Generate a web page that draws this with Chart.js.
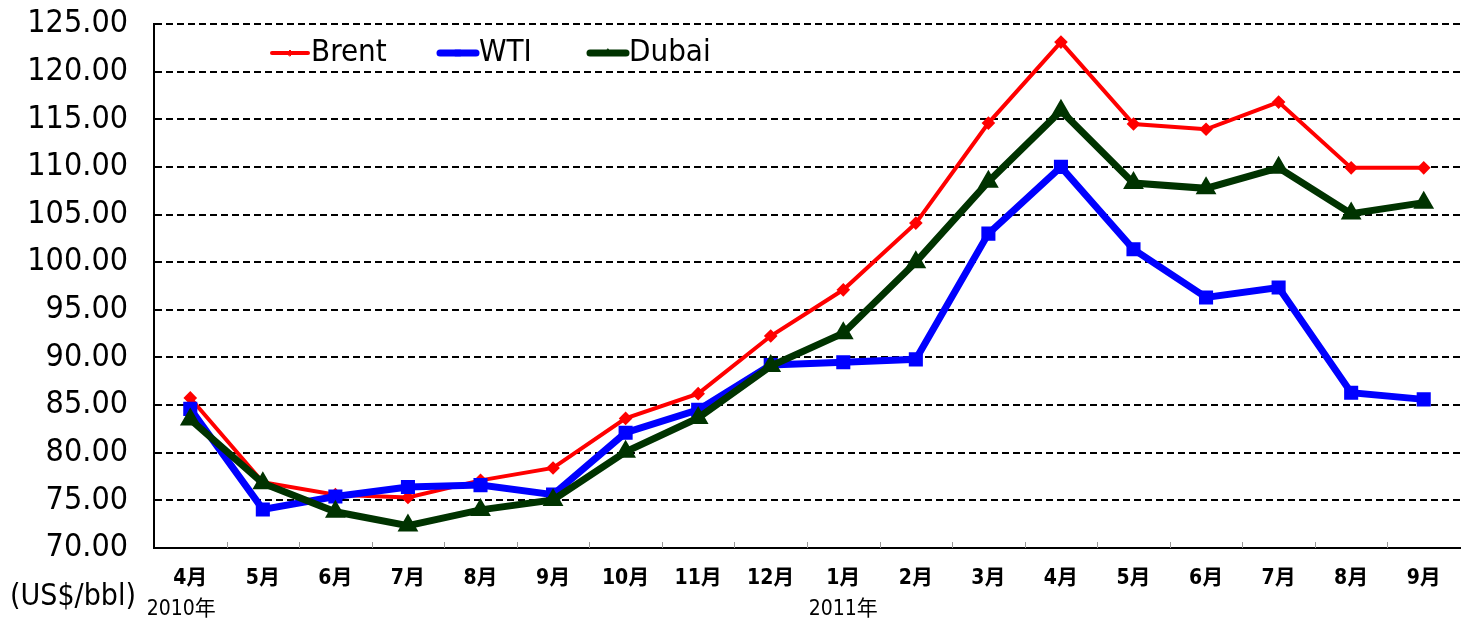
<!DOCTYPE html>
<html lang="ja">
<head>
<meta charset="UTF-8">
<title>原油価格の推移</title>
<script src="https://cdn.jsdelivr.net/npm/chart.js"></script>
<style>
  html, body { margin: 0; padding: 0; background: #fff; }
  #wrap { width: 1472px; height: 628px; position: relative; }
</style>
</head>
<body>
<div id="wrap"><canvas id="oilChart"></canvas></div>
<script>
const months = ['4月','5月','6月','7月','8月','9月','10月','11月','12月','1月','2月','3月','4月','5月','6月','7月','8月','9月'];
const yearLabels = [{ index: 0, text: '2010年' }, { index: 9, text: '2011年' }];

const brent = [85.75, 76.9, 75.6, 75.3, 77.1, 78.4, 83.6, 86.2, 92.25, 97.1, 104.1, 114.6, 123.1, 114.5, 113.95, 116.8, 109.9, 109.9];
const wti   = [84.6, 74.05, 75.4, 76.4, 76.6, 75.6, 82.1, 84.5, 89.2, 89.5, 89.8, 103.0, 110.0, 101.35, 96.3, 97.35, 86.3, 85.6];
const dubai = [83.5, 76.8, 73.8, 72.35, 74.0, 75.05, 80.1, 83.65, 89.1, 92.55, 100.0, 108.45, 115.9, 108.3, 107.75, 109.9, 105.1, 106.25];

const FONT = '"DejaVu Sans Condensed", "Noto Sans CJK JP", sans-serif';

// extra texts, bottom ticks, legend
const extras = {
    id: 'extras',
    afterDraw(chart) {
        const ctx = chart.ctx;
        const area = chart.chartArea;
        const xs = chart.scales.x;
        ctx.save();

        // small tick marks between categories, inside the plot
        ctx.strokeStyle = '#999';
        ctx.lineWidth = 1;
        for (let i = 0; i < months.length - 1; i++) {
            const x = Math.round((xs.getPixelForValue(i) + xs.getPixelForValue(i + 1)) / 2) + 0.5;
            ctx.beginPath();
            ctx.moveTo(x, area.bottom - 6);
            ctx.lineTo(x, area.bottom);
            ctx.stroke();
        }

        // year labels
        ctx.fillStyle = '#000';
        ctx.font = '21px ' + FONT;
        ctx.textAlign = 'center';
        ctx.textBaseline = 'middle';
        ctx.fillText(yearLabels[0].text, xs.getPixelForValue(yearLabels[0].index) - 9, 610);
        ctx.fillText(yearLabels[1].text, xs.getPixelForValue(yearLabels[1].index), 610);

        // unit
        ctx.font = '30px ' + FONT;
        ctx.textAlign = 'left';
        ctx.fillText('(US$/bbl)', 10, 597);

        // legend
        ctx.font = '31px ' + FONT;
        chart.data.datasets.forEach((ds, i) => {
            const x0 = [272, 440, 590][i];
            const y0 = 53;
            ctx.strokeStyle = ds.borderColor;
            ctx.lineWidth = ds.borderWidth;
            ctx.lineCap = 'round';
            ctx.beginPath();
            ctx.moveTo(x0, y0);
            ctx.lineTo(x0 + 36, y0);
            ctx.stroke();
            ctx.fillStyle = ds.backgroundColor;
            ctx.lineWidth = 1;
            Chart.helpers.drawPoint(ctx, { pointStyle: ds.pointStyle, radius: ds.pointRadius - 1, borderWidth: 1 }, x0 + 18, y0);
            ctx.fillStyle = '#000';
            ctx.fillText(ds.label, x0 + 39, y0);
        });
        ctx.restore();
    }
};

new Chart(document.getElementById('oilChart'), {
    type: 'line',
    data: {
        labels: months,
        datasets: [
            {
                label: 'Brent',
                data: brent,
                borderColor: '#ff0000',
                backgroundColor: '#ff0000',
                borderWidth: 4,
                pointStyle: 'rectRot',
                pointRadius: 4,
                order: 2
            },
            {
                label: 'WTI',
                data: wti,
                borderColor: '#0000ff',
                backgroundColor: '#0000ff',
                borderWidth: 7,
                pointStyle: 'rect',
                pointRadius: 5,
                order: 1
            },
            {
                label: 'Dubai',
                data: dubai,
                borderColor: '#003300',
                backgroundColor: '#003300',
                borderWidth: 7,
                pointStyle: 'triangle',
                pointRadius: 5,
                order: 0
            }
        ]
    },
    options: {
        responsive: true,
        maintainAspectRatio: false,
        animation: false,
        layout: { padding: { top: 24, right: 10, left: 0, bottom: 0 } },
        plugins: {
            legend: { display: false },
            tooltip: { enabled: false }
        },
        scales: {
            x: {
                offset: true,
                grid: { display: false, drawTicks: false },
                border: { display: true, color: '#000', width: 2 },
                ticks: {
                    color: '#000',
                    padding: 18,
                    font: { family: FONT, size: 21, weight: 'bold' },
                    maxRotation: 0,
                    autoSkip: false
                },
                afterFit(scale) { scale.height = 80; }
            },
            y: {
                min: 70,
                max: 125,
                ticks: {
                    stepSize: 5,
                    color: '#000',
                    padding: 26,
                    font: { family: FONT, size: 32 },
                    callback: v => v.toFixed(2)
                },
                grid: {
                    color: ctx => ctx.tick.value === 70 ? 'rgba(0,0,0,0)' : '#000',
                    lineWidth: 2,
                    drawTicks: false
                },
                border: { display: true, color: '#000', width: 2, dash: [7, 4] },
                afterFit(scale) {
                    scale.width = 154;
                    scale.paddingTop = 0;
                    scale.paddingBottom = 0;
                }
            }
        }
    },
    plugins: [extras]
});
</script>
</body>
</html>
